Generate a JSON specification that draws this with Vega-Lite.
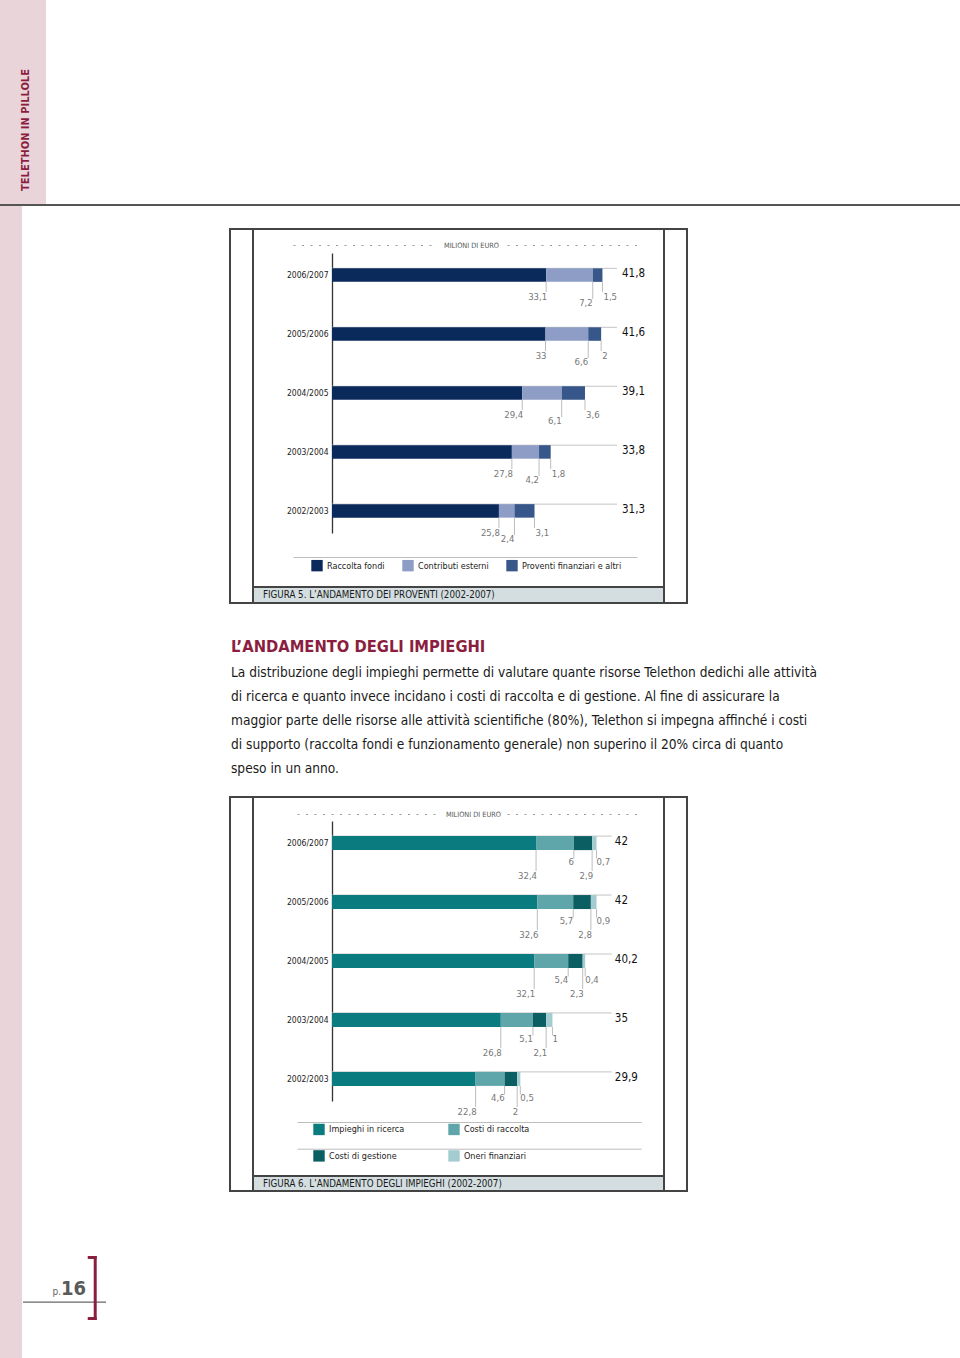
{
  "$schema": "https://vega.github.io/schema/vega-lite/v6.json",
  "background": "white",
  "padding": 0,
  "spacing": 0,
  "resolve": {"scale": {"color": "independent"}, "legend": {"color": "independent"}},
  "config": {
    "view": {"stroke": null},
    "font": "DejaVu Sans Condensed, DejaVu Sans, sans-serif",
    "locale": {"number": {"decimal": ",", "thousands": ".", "grouping": [3], "currency": ["€", ""]}},
    "legend": {"padding": 0}
  },
  "vconcat": [
    {
      "width": 46, "height": 204,
      "view": {"fill": "#e8d4d9", "stroke": null},
      "data": {"values": [{"t": "TELETHON IN PILLOLE"}]},
      "mark": {"type": "text", "angle": 270, "fontSize": 11, "fontWeight": "bold", "color": "#8b1e3f", "dx": -28, "dy": 3, "align": "center", "baseline": "middle"},
      "encoding": {"text": {"field": "t", "type": "nominal"}}
    },
    {"width": 960, "height": 2, "view": {"fill": "#555555", "stroke": null}, "data": {"values": [{}]}, "mark": {"type": "text", "text": "", "fontSize": 0}},
    {
      "spacing": 0,
      "resolve": {"scale": {"color": "independent"}, "legend": {"color": "independent"}},
      "hconcat": [
        {"width": 22, "height": 1152, "view": {"fill": "#e8d4d9", "stroke": null}, "data": {"values": [{}]}, "mark": {"type": "text", "text": "", "fontSize": 0}},
        {
          "spacing": 0,
          "vconcat": [
            {"width": 206, "height": 1048, "data": {"values": [{}]}, "mark": {"type": "text", "text": "", "fontSize": 0}},
            {
              "width": 83, "height": 64,
              "data": {"values": [{}]},
              "layer": [
                {"mark": {"type": "rule", "color": "#666666", "strokeWidth": 1.3},
                 "encoding": {"y": {"datum": 0.28, "type": "quantitative", "scale": {"domain": [0, 1]}, "axis": null}}},
                {"mark": {"type": "rule", "color": "#8b1e3f", "strokeWidth": 3},
                 "encoding": {"x": {"datum": 0.87, "type": "quantitative", "scale": {"domain": [0, 1]}, "axis": null}}},
                {"mark": {"type": "rule", "color": "#8b1e3f", "strokeWidth": 3},
                 "encoding": {"x": {"datum": 0.78, "type": "quantitative", "scale": {"domain": [0, 1]}, "axis": null}, "x2": {"datum": 0.888}, "y": {"datum": 0.977, "type": "quantitative", "scale": {"domain": [0, 1]}, "axis": null}}},
                {"mark": {"type": "rule", "color": "#8b1e3f", "strokeWidth": 3},
                 "encoding": {"x": {"datum": 0.78, "type": "quantitative", "scale": {"domain": [0, 1]}, "axis": null}, "x2": {"datum": 0.888}, "y": {"datum": 0.023, "type": "quantitative", "scale": {"domain": [0, 1]}, "axis": null}}},
                {"mark": {"type": "text", "align": "right", "baseline": "alphabetic", "fontSize": 20, "fontWeight": "bold", "color": "#5a5a5a"},
                 "encoding": {"x": {"datum": 0.759, "type": "quantitative", "scale": {"domain": [0, 1]}, "axis": null}, "y": {"datum": 0.395, "type": "quantitative", "scale": {"domain": [0, 1]}, "axis": null}, "text": {"value": "16"}}},
                {"mark": {"type": "text", "align": "right", "baseline": "alphabetic", "fontSize": 10, "color": "#666666"},
                 "encoding": {"x": {"datum": 0.458, "type": "quantitative", "scale": {"domain": [0, 1]}, "axis": null}, "y": {"datum": 0.395, "type": "quantitative", "scale": {"domain": [0, 1]}, "axis": null}, "text": {"value": "p."}}}
              ]
            }
          ]
        },
        {
          "spacing": 0,
          "resolve": {"scale": {"color": "independent"}, "legend": {"color": "independent"}},
          "vconcat": [
            {"width": 459, "height": 22, "data": {"values": [{}]}, "mark": {"type": "text", "text": "", "fontSize": 0}},
            {
              "spacing": 0,
              "resolve": {"scale": {"color": "independent"}, "legend": {"color": "independent"}},
              "vconcat": [
                {"width": 459, "height": 2, "view": {"fill": "#444444", "stroke": null}, "data": {"values": [{}]}, "mark": {"type": "text", "text": "", "fontSize": 0}},
                {
                  "spacing": 0,
                  "bounds": "flush",
                  "resolve": {"scale": {"color": "independent"}, "legend": {"color": "independent"}},
                  "hconcat": [
                    {"width": 2, "height": 356, "view": {"fill": "#444444", "stroke": null}, "data": {"values": [{}]}, "mark": {"type": "text", "text": "", "fontSize": 0}},
                    {"width": 21, "height": 356, "data": {"values": [{}]}, "mark": {"type": "text", "text": "", "fontSize": 0}},
                    {"width": 2, "height": 356, "view": {"fill": "#444444", "stroke": null}, "data": {"values": [{}]}, "mark": {"type": "text", "text": "", "fontSize": 0}},
                    {
                      "width": 409, "height": 356,
                      "data": {"values": [
                        {"year": "2006/2007", "cat": "Raccolta fondi", "order": 1, "value": 33.1},
                        {"year": "2006/2007", "cat": "Contributi esterni", "order": 2, "value": 7.2},
                        {"year": "2006/2007", "cat": "Proventi finanziari e altri", "order": 3, "value": 1.5},
                        {"year": "2005/2006", "cat": "Raccolta fondi", "order": 1, "value": 33},
                        {"year": "2005/2006", "cat": "Contributi esterni", "order": 2, "value": 6.6},
                        {"year": "2005/2006", "cat": "Proventi finanziari e altri", "order": 3, "value": 2},
                        {"year": "2004/2005", "cat": "Raccolta fondi", "order": 1, "value": 29.4},
                        {"year": "2004/2005", "cat": "Contributi esterni", "order": 2, "value": 6.1},
                        {"year": "2004/2005", "cat": "Proventi finanziari e altri", "order": 3, "value": 3.6},
                        {"year": "2003/2004", "cat": "Raccolta fondi", "order": 1, "value": 27.8},
                        {"year": "2003/2004", "cat": "Contributi esterni", "order": 2, "value": 4.2},
                        {"year": "2003/2004", "cat": "Proventi finanziari e altri", "order": 3, "value": 1.8},
                        {"year": "2002/2003", "cat": "Raccolta fondi", "order": 1, "value": 25.8},
                        {"year": "2002/2003", "cat": "Contributi esterni", "order": 2, "value": 2.4},
                        {"year": "2002/2003", "cat": "Proventi finanziari e altri", "order": 3, "value": 3.1}
                      ]},
                      "transform": [{"stack": "value", "groupby": ["year"], "sort": [{"field": "order", "order": "ascending"}], "as": ["v0", "v1"]}],
                      "resolve": {"axis": {"x": "independent"}},
                      "encoding": {
                        "y": {"field": "year", "type": "nominal",
                              "sort": ["2006/2007", "2005/2006", "2004/2005", "2003/2004", "2002/2003"],
                              "scale": {"range": [23, 303], "paddingInner": 0.25, "paddingOuter": 0},
                              "axis": {"title": null, "offset": -78, "ticks": false, "labelPadding": 4, "domainColor": "#333333", "domainWidth": 1.3, "labelFontSize": 8.5, "labelColor": "#222222"}}
                      },
                      "layer": [
                        {"transform": [{"filter": "datum.order == 1"}],
                         "mark": {"type": "rule", "color": "#c4c4c4", "strokeWidth": 1, "yOffset": -6.75},
                         "encoding": {
                           "x": {"datum": 0, "type": "quantitative", "scale": {"domain": [-6.028, 47.14], "range": [39, 383], "nice": false, "zero": false},
                                 "axis": {"orient": "top", "offset": -15, "domain": true, "domainColor": "#9a9a9a", "domainWidth": 1,
                                          "domainDash": [2, 6.5, 2, 6.5, 2, 6.5, 2, 6.5, 2, 6.5, 2, 6.5, 2, 6.5, 2, 6.5, 2, 6.5, 2, 6.5, 2, 6.5, 2, 6.5, 2, 6.5, 2, 6.5, 2, 6.5, 2, 6.5, 2, 76, 2, 6.5, 2, 6.5, 2, 6.5, 2, 6.5, 2, 6.5, 2, 6.5, 2, 6.5, 2, 6.5, 2, 6.5, 2, 6.5, 2, 6.5, 2, 6.5, 2, 6.5, 2, 6.5, 2, 6.5, 2, 50],
                                          "ticks": false, "labels": false, "grid": false,
                                          "title": "MILIONI DI EURO", "titleFontSize": 7.3, "titleFontWeight": "normal", "titleColor": "#555555",
                                          "titleX": 217, "titleY": 0, "titleAlign": "center", "titleBaseline": "middle", "titleAngle": 0}},
                           "x2": {"datum": 44.05}
                         }},
                        {"mark": {"type": "bar", "height": 13.5},
                         "encoding": {
                           "x": {"field": "v0", "type": "quantitative", "scale": {"domain": [-6.028, 47.14], "range": [39, 383], "nice": false, "zero": false},
                                 "axis": {"orient": "bottom", "offset": -29, "domain": true, "domainColor": "#bdbdbd", "domainWidth": 1, "ticks": false, "labels": false, "grid": false, "title": null}},
                           "x2": {"field": "v1"},
                           "color": {"field": "cat", "type": "nominal",
                                     "scale": {"domain": ["Raccolta fondi", "Contributi esterni", "Proventi finanziari e altri"], "range": ["#0b2a5c", "#8e9dc6", "#37568a"]},
                                     "legend": {"orient": "none", "legendX": 57, "legendY": 329.5, "direction": "horizontal", "columns": 3, "title": null, "symbolType": "square", "symbolSize": 130, "symbolStrokeWidth": 0, "symbolOpacity": 1, "labelFontSize": 9, "labelColor": "#222222", "columnPadding": 17, "labelOffset": 4}}
                         }},
                        {"transform": [{"filter": "datum.order != 2"}],
                         "mark": {"type": "tick", "color": "#bdbdbd", "thickness": 1, "size": 10.25, "yOffset": 11.875, "opacity": 1},
                         "encoding": {"x": {"field": "v1", "type": "quantitative", "scale": {"domain": [-6.028, 47.14], "range": [39, 383], "nice": false, "zero": false}, "axis": null}}},
                        {"transform": [{"filter": "datum.order == 2"}],
                         "mark": {"type": "tick", "color": "#bdbdbd", "thickness": 1, "size": 17.25, "yOffset": 15.375, "opacity": 1},
                         "encoding": {"x": {"field": "v1", "type": "quantitative", "scale": {"domain": [-6.028, 47.14], "range": [39, 383], "nice": false, "zero": false}, "axis": null}}},
                        {"transform": [{"filter": "datum.order == 1"}],
                         "mark": {"type": "text", "align": "right", "baseline": "middle", "dx": 1, "dy": 22, "fontSize": 9.5, "color": "#777777"},
                         "encoding": {"x": {"field": "v1", "type": "quantitative", "scale": {"domain": [-6.028, 47.14], "range": [39, 383], "nice": false, "zero": false}, "axis": null},
                                      "text": {"field": "value", "type": "quantitative", "format": ".1~f"}}},
                        {"transform": [{"filter": "datum.order == 2"}],
                         "mark": {"type": "text", "align": "right", "baseline": "middle", "dx": 0, "dy": 28, "fontSize": 9.5, "color": "#777777"},
                         "encoding": {"x": {"field": "v1", "type": "quantitative", "scale": {"domain": [-6.028, 47.14], "range": [39, 383], "nice": false, "zero": false}, "axis": null},
                                      "text": {"field": "value", "type": "quantitative", "format": ".1~f"}}},
                        {"transform": [{"filter": "datum.order == 3"}],
                         "mark": {"type": "text", "align": "left", "baseline": "middle", "dx": 1, "dy": 22, "fontSize": 9.5, "color": "#777777"},
                         "encoding": {"x": {"field": "v1", "type": "quantitative", "scale": {"domain": [-6.028, 47.14], "range": [39, 383], "nice": false, "zero": false}, "axis": null},
                                      "text": {"field": "value", "type": "quantitative", "format": ".1~f"}}},
                        {"mark": {"type": "text", "align": "left", "baseline": "middle", "dy": -1, "fontSize": 11.5, "color": "#111111"},
                         "encoding": {"x": {"datum": 44.82, "type": "quantitative", "scale": {"domain": [-6.028, 47.14], "range": [39, 383], "nice": false, "zero": false}, "axis": null},
                                      "text": {"aggregate": "sum", "field": "value", "type": "quantitative", "format": ".1~f"}}}
                      ]
                    },
                    {"width": 2, "height": 356, "view": {"fill": "#444444", "stroke": null}, "data": {"values": [{}]}, "mark": {"type": "text", "text": "", "fontSize": 0}},
                    {"width": 21, "height": 356, "data": {"values": [{}]}, "mark": {"type": "text", "text": "", "fontSize": 0}},
                    {"width": 2, "height": 356, "view": {"fill": "#444444", "stroke": null}, "data": {"values": [{}]}, "mark": {"type": "text", "text": "", "fontSize": 0}}
                  ]
                },
                {
                  "spacing": 0,
                  "bounds": "flush",
                  "hconcat": [
                    {"width": 2, "height": 2, "view": {"fill": "#444444", "stroke": null}, "data": {"values": [{}]}, "mark": {"type": "text", "text": "", "fontSize": 0}},
                    {"width": 21, "height": 2, "data": {"values": [{}]}, "mark": {"type": "text", "text": "", "fontSize": 0}},
                    {"width": 413, "height": 2, "view": {"fill": "#444444", "stroke": null}, "data": {"values": [{}]}, "mark": {"type": "text", "text": "", "fontSize": 0}},
                    {"width": 21, "height": 2, "data": {"values": [{}]}, "mark": {"type": "text", "text": "", "fontSize": 0}},
                    {"width": 2, "height": 2, "view": {"fill": "#444444", "stroke": null}, "data": {"values": [{}]}, "mark": {"type": "text", "text": "", "fontSize": 0}}
                  ]
                },
                {
                  "spacing": 0,
                  "bounds": "flush",
                  "hconcat": [
                    {"width": 2, "height": 14, "view": {"fill": "#444444", "stroke": null}, "data": {"values": [{}]}, "mark": {"type": "text", "text": "", "fontSize": 0}},
                    {"width": 21, "height": 14, "data": {"values": [{}]}, "mark": {"type": "text", "text": "", "fontSize": 0}},
                    {"width": 2, "height": 14, "view": {"fill": "#444444", "stroke": null}, "data": {"values": [{}]}, "mark": {"type": "text", "text": "", "fontSize": 0}},
                    {"width": 409, "height": 14, "view": {"fill": "#d4dee1", "stroke": null},
                     "data": {"values": [{"t": "FIGURA 5. L’ANDAMENTO DEI PROVENTI (2002-2007)"}]},
                     "mark": {"type": "text", "align": "left", "baseline": "middle", "dx": -195.5, "fontSize": 9.7, "color": "#1a1a1a"},
                     "encoding": {"text": {"field": "t", "type": "nominal"}}},
                    {"width": 2, "height": 14, "view": {"fill": "#444444", "stroke": null}, "data": {"values": [{}]}, "mark": {"type": "text", "text": "", "fontSize": 0}},
                    {"width": 21, "height": 14, "data": {"values": [{}]}, "mark": {"type": "text", "text": "", "fontSize": 0}},
                    {"width": 2, "height": 14, "view": {"fill": "#444444", "stroke": null}, "data": {"values": [{}]}, "mark": {"type": "text", "text": "", "fontSize": 0}}
                  ]
                },
                {"width": 459, "height": 2, "view": {"fill": "#444444", "stroke": null}, "data": {"values": [{}]}, "mark": {"type": "text", "text": "", "fontSize": 0}}
              ]
            },
            {"width": 459, "height": 33, "data": {"values": [{}]}, "mark": {"type": "text", "text": "", "fontSize": 0}},
            {"width": 4, "height": 20, "data": {"values": [{"t": "L’ANDAMENTO DEGLI IMPIEGHI"}]},
             "mark": {"type": "text", "align": "left", "baseline": "middle", "fontSize": 16.4, "fontWeight": "bold", "color": "#8b1e3f"},
             "encoding": {"text": {"field": "t", "type": "nominal"}}},
            {"width": 459, "height": 4, "data": {"values": [{}]}, "mark": {"type": "text", "text": "", "fontSize": 0}},
            {"width": 4, "height": 120,
             "data": {"values": [
               {"line": 1, "text": "La distribuzione degli impieghi permette di valutare quante risorse Telethon dedichi alle attività"},
               {"line": 2, "text": "di ricerca e quanto invece incidano i costi di raccolta e di gestione. Al fine di assicurare la"},
               {"line": 3, "text": "maggior parte delle risorse alle attività scientifiche (80%), Telethon si impegna affinché i costi"},
               {"line": 4, "text": "di supporto (raccolta fondi e funzionamento generale) non superino il 20% circa di quanto"},
               {"line": 5, "text": "speso in un anno."}
             ]},
             "mark": {"type": "text", "align": "left", "baseline": "middle", "fontSize": 13.6, "color": "#1a1a1a"},
             "encoding": {"y": {"field": "line", "type": "ordinal", "axis": null}, "text": {"field": "text", "type": "nominal"}}},
            {"width": 459, "height": 15, "data": {"values": [{}]}, "mark": {"type": "text", "text": "", "fontSize": 0}},
            {
              "spacing": 0,
              "resolve": {"scale": {"color": "independent"}, "legend": {"color": "independent"}},
              "vconcat": [
                {"width": 459, "height": 2, "view": {"fill": "#444444", "stroke": null}, "data": {"values": [{}]}, "mark": {"type": "text", "text": "", "fontSize": 0}},
                {
                  "spacing": 0,
                  "bounds": "flush",
                  "resolve": {"scale": {"color": "independent"}, "legend": {"color": "independent"}},
                  "hconcat": [
                    {"width": 2, "height": 377, "view": {"fill": "#444444", "stroke": null}, "data": {"values": [{}]}, "mark": {"type": "text", "text": "", "fontSize": 0}},
                    {"width": 21, "height": 377, "data": {"values": [{}]}, "mark": {"type": "text", "text": "", "fontSize": 0}},
                    {"width": 2, "height": 377, "view": {"fill": "#444444", "stroke": null}, "data": {"values": [{}]}, "mark": {"type": "text", "text": "", "fontSize": 0}},
                    {
                      "width": 409, "height": 377,
                      "data": {"values": [
                        {"year": "2006/2007", "cat": "Impieghi in ricerca", "order": 1, "value": 32.4},
                        {"year": "2006/2007", "cat": "Costi di raccolta", "order": 2, "value": 6},
                        {"year": "2006/2007", "cat": "Costi di gestione", "order": 3, "value": 2.9},
                        {"year": "2006/2007", "cat": "Oneri finanziari", "order": 4, "value": 0.7},
                        {"year": "2005/2006", "cat": "Impieghi in ricerca", "order": 1, "value": 32.6},
                        {"year": "2005/2006", "cat": "Costi di raccolta", "order": 2, "value": 5.7},
                        {"year": "2005/2006", "cat": "Costi di gestione", "order": 3, "value": 2.8},
                        {"year": "2005/2006", "cat": "Oneri finanziari", "order": 4, "value": 0.9},
                        {"year": "2004/2005", "cat": "Impieghi in ricerca", "order": 1, "value": 32.1},
                        {"year": "2004/2005", "cat": "Costi di raccolta", "order": 2, "value": 5.4},
                        {"year": "2004/2005", "cat": "Costi di gestione", "order": 3, "value": 2.3},
                        {"year": "2004/2005", "cat": "Oneri finanziari", "order": 4, "value": 0.4},
                        {"year": "2003/2004", "cat": "Impieghi in ricerca", "order": 1, "value": 26.8},
                        {"year": "2003/2004", "cat": "Costi di raccolta", "order": 2, "value": 5.1},
                        {"year": "2003/2004", "cat": "Costi di gestione", "order": 3, "value": 2.1},
                        {"year": "2003/2004", "cat": "Oneri finanziari", "order": 4, "value": 1},
                        {"year": "2002/2003", "cat": "Impieghi in ricerca", "order": 1, "value": 22.8},
                        {"year": "2002/2003", "cat": "Costi di raccolta", "order": 2, "value": 4.6},
                        {"year": "2002/2003", "cat": "Costi di gestione", "order": 3, "value": 2},
                        {"year": "2002/2003", "cat": "Oneri finanziari", "order": 4, "value": 0.5}
                      ]},
                      "transform": [{"stack": "value", "groupby": ["year"], "sort": [{"field": "order", "order": "ascending"}], "as": ["v0", "v1"]}],
                      "resolve": {"axis": {"x": "independent"}},
                      "encoding": {
                        "y": {"field": "year", "type": "nominal",
                              "sort": ["2006/2007", "2005/2006", "2004/2005", "2003/2004", "2002/2003"],
                              "scale": {"range": [23, 303], "paddingInner": 0.25, "paddingOuter": 0},
                              "axis": {"title": null, "offset": -78, "ticks": false, "labelPadding": 4, "domainColor": "#333333", "domainWidth": 1.3, "labelFontSize": 8.5, "labelColor": "#222222"}}
                      },
                      "layer": [
                        {"transform": [{"filter": "datum.order == 1"}],
                         "mark": {"type": "rule", "color": "#c4c4c4", "strokeWidth": 1, "yOffset": -7},
                         "encoding": {
                           "x": {"datum": 0, "type": "quantitative", "scale": {"domain": [-5.557, 49.06], "range": [43, 387], "nice": false, "zero": false},
                                 "axis": {"orient": "top", "offset": -16, "domain": true, "domainColor": "#9a9a9a", "domainWidth": 1,
                                          "domainDash": [2, 6.5, 2, 6.5, 2, 6.5, 2, 6.5, 2, 6.5, 2, 6.5, 2, 6.5, 2, 6.5, 2, 6.5, 2, 6.5, 2, 6.5, 2, 6.5, 2, 6.5, 2, 6.5, 2, 6.5, 2, 6.5, 2, 72, 2, 6.5, 2, 6.5, 2, 6.5, 2, 6.5, 2, 6.5, 2, 6.5, 2, 6.5, 2, 6.5, 2, 6.5, 2, 6.5, 2, 6.5, 2, 6.5, 2, 6.5, 2, 6.5, 2, 6.5, 2, 50],
                                          "ticks": false, "labels": false, "grid": false,
                                          "title": "MILIONI DI EURO", "titleFontSize": 7.3, "titleFontWeight": "normal", "titleColor": "#555555",
                                          "titleX": 219, "titleY": 0, "titleAlign": "center", "titleBaseline": "middle", "titleAngle": 0}},
                           "x2": {"datum": 44.4}
                         }},
                        {"mark": {"type": "bar", "height": 14},
                         "encoding": {
                           "x": {"field": "v0", "type": "quantitative", "scale": {"domain": [-5.557, 49.06], "range": [43, 387], "nice": false, "zero": false},
                                 "axis": {"orient": "bottom", "offset": -26.3, "domain": true, "domainColor": "#bdbdbd", "domainWidth": 1, "ticks": false, "labels": false, "grid": false, "title": null}},
                           "x2": {"field": "v1"},
                           "color": {"field": "cat", "type": "nominal",
                                     "scale": {"domain": ["Impieghi in ricerca", "Costi di raccolta", "Costi di gestione", "Oneri finanziari"], "range": ["#0a7c80", "#5ea6a9", "#0b5e62", "#a3ccd0"]},
                                     "legend": {"orient": "none", "legendX": 59, "legendY": 325.3, "direction": "horizontal", "columns": 2, "title": null, "symbolType": "square", "symbolSize": 130, "symbolStrokeWidth": 0, "symbolOpacity": 1, "labelFontSize": 9, "labelColor": "#222222", "columnPadding": 43, "rowPadding": 14.6, "labelOffset": 4}}
                         }},
                        {"transform": [{"filter": "datum.order == 1 || datum.order == 3"}],
                         "mark": {"type": "tick", "color": "#bdbdbd", "thickness": 1, "size": 21, "yOffset": 17.5, "opacity": 1},
                         "encoding": {"x": {"field": "v1", "type": "quantitative", "scale": {"domain": [-5.557, 49.06], "range": [43, 387], "nice": false, "zero": false},
                                            "axis": {"orient": "bottom", "offset": -53, "domain": true, "domainColor": "#bdbdbd", "domainWidth": 1, "ticks": false, "labels": false, "grid": false, "title": null}}}},
                        {"transform": [{"filter": "datum.order == 2 || datum.order == 4"}],
                         "mark": {"type": "tick", "color": "#bdbdbd", "thickness": 1, "size": 8.5, "yOffset": 11.25, "opacity": 1},
                         "encoding": {"x": {"field": "v1", "type": "quantitative", "scale": {"domain": [-5.557, 49.06], "range": [43, 387], "nice": false, "zero": false}, "axis": null}}},
                        {"transform": [{"filter": "datum.order == 1 || datum.order == 3"}],
                         "mark": {"type": "text", "align": "right", "baseline": "middle", "dx": 1, "dy": 33, "fontSize": 9.5, "color": "#777777"},
                         "encoding": {"x": {"field": "v1", "type": "quantitative", "scale": {"domain": [-5.557, 49.06], "range": [43, 387], "nice": false, "zero": false}, "axis": null},
                                      "text": {"field": "value", "type": "quantitative", "format": ".1~f"}}},
                        {"transform": [{"filter": "datum.order == 2"}],
                         "mark": {"type": "text", "align": "right", "baseline": "middle", "dx": 0, "dy": 19, "fontSize": 9.5, "color": "#777777"},
                         "encoding": {"x": {"field": "v1", "type": "quantitative", "scale": {"domain": [-5.557, 49.06], "range": [43, 387], "nice": false, "zero": false}, "axis": null},
                                      "text": {"field": "value", "type": "quantitative", "format": ".1~f"}}},
                        {"transform": [{"filter": "datum.order == 4"}],
                         "mark": {"type": "text", "align": "left", "baseline": "middle", "dx": 0, "dy": 19, "fontSize": 9.5, "color": "#777777"},
                         "encoding": {"x": {"field": "v1", "type": "quantitative", "scale": {"domain": [-5.557, 49.06], "range": [43, 387], "nice": false, "zero": false}, "axis": null},
                                      "text": {"field": "value", "type": "quantitative", "format": ".1~f"}}},
                        {"mark": {"type": "text", "align": "left", "baseline": "middle", "dy": -1, "fontSize": 11.5, "color": "#111111"},
                         "encoding": {"x": {"datum": 44.9, "type": "quantitative", "scale": {"domain": [-5.557, 49.06], "range": [43, 387], "nice": false, "zero": false}, "axis": null},
                                      "text": {"aggregate": "sum", "field": "value", "type": "quantitative", "format": ".1~f"}}}
                      ]
                    },
                    {"width": 2, "height": 377, "view": {"fill": "#444444", "stroke": null}, "data": {"values": [{}]}, "mark": {"type": "text", "text": "", "fontSize": 0}},
                    {"width": 21, "height": 377, "data": {"values": [{}]}, "mark": {"type": "text", "text": "", "fontSize": 0}},
                    {"width": 2, "height": 377, "view": {"fill": "#444444", "stroke": null}, "data": {"values": [{}]}, "mark": {"type": "text", "text": "", "fontSize": 0}}
                  ]
                },
                {
                  "spacing": 0,
                  "bounds": "flush",
                  "hconcat": [
                    {"width": 2, "height": 2, "view": {"fill": "#444444", "stroke": null}, "data": {"values": [{}]}, "mark": {"type": "text", "text": "", "fontSize": 0}},
                    {"width": 21, "height": 2, "data": {"values": [{}]}, "mark": {"type": "text", "text": "", "fontSize": 0}},
                    {"width": 413, "height": 2, "view": {"fill": "#444444", "stroke": null}, "data": {"values": [{}]}, "mark": {"type": "text", "text": "", "fontSize": 0}},
                    {"width": 21, "height": 2, "data": {"values": [{}]}, "mark": {"type": "text", "text": "", "fontSize": 0}},
                    {"width": 2, "height": 2, "view": {"fill": "#444444", "stroke": null}, "data": {"values": [{}]}, "mark": {"type": "text", "text": "", "fontSize": 0}}
                  ]
                },
                {
                  "spacing": 0,
                  "bounds": "flush",
                  "hconcat": [
                    {"width": 2, "height": 13, "view": {"fill": "#444444", "stroke": null}, "data": {"values": [{}]}, "mark": {"type": "text", "text": "", "fontSize": 0}},
                    {"width": 21, "height": 13, "data": {"values": [{}]}, "mark": {"type": "text", "text": "", "fontSize": 0}},
                    {"width": 2, "height": 13, "view": {"fill": "#444444", "stroke": null}, "data": {"values": [{}]}, "mark": {"type": "text", "text": "", "fontSize": 0}},
                    {"width": 409, "height": 13, "view": {"fill": "#d4dee1", "stroke": null},
                     "data": {"values": [{"t": "FIGURA 6. L’ANDAMENTO DEGLI IMPIEGHI (2002-2007)"}]},
                     "mark": {"type": "text", "align": "left", "baseline": "middle", "dx": -195.5, "fontSize": 9.7, "color": "#1a1a1a"},
                     "encoding": {"text": {"field": "t", "type": "nominal"}}},
                    {"width": 2, "height": 13, "view": {"fill": "#444444", "stroke": null}, "data": {"values": [{}]}, "mark": {"type": "text", "text": "", "fontSize": 0}},
                    {"width": 21, "height": 13, "data": {"values": [{}]}, "mark": {"type": "text", "text": "", "fontSize": 0}},
                    {"width": 2, "height": 13, "view": {"fill": "#444444", "stroke": null}, "data": {"values": [{}]}, "mark": {"type": "text", "text": "", "fontSize": 0}}
                  ]
                },
                {"width": 459, "height": 2, "view": {"fill": "#444444", "stroke": null}, "data": {"values": [{}]}, "mark": {"type": "text", "text": "", "fontSize": 0}}
              ]
            }
          ]
        }
      ]
    }
  ]
}
